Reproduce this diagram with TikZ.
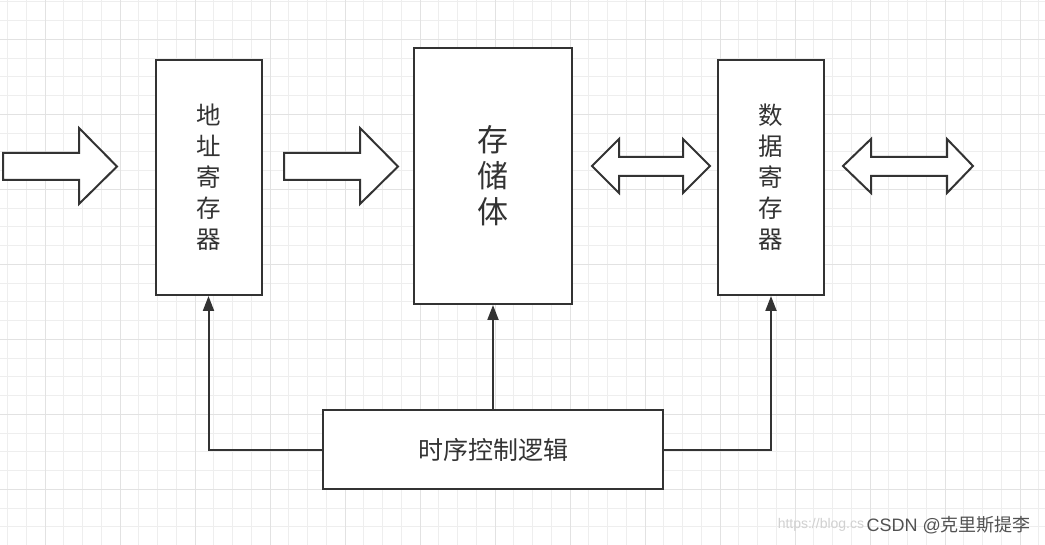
\documentclass[tikz,border=0pt]{standalone}
\usepackage{fontspec}
\newfontfamily\cjk{Noto Sans CJK SC}
\setmainfont{Liberation Sans}
\usetikzlibrary{arrows.meta}
\definecolor{ln}{HTML}{333333}
\definecolor{gridminor}{HTML}{EEEEEE}
\definecolor{gridmajor}{HTML}{E2E2E2}
\tikzset{
  box/.style={draw=ln, line width=2pt, fill=white, inner sep=0pt, align=center, text=ln},
  blockarrow/.style={draw=ln, line width=2pt, fill=white, line join=miter},
  conn/.style={draw=ln, line width=2pt, -{Triangle[length=15pt,width=11pt]}},
  vlabel/.style={font=\cjk\fontsize{24.5}{31}\selectfont},
}
\begin{document}
\begin{tikzpicture}[x=1pt,y=-1pt]
\useasboundingbox (0,0) rectangle (1045,545);
\fill[white] (0,0) rectangle (1045,545);
% grid
\foreach \i in {0,...,56} {
  \pgfmathsetmacro\xx{7.5+18.75*\i}
  \draw[gridminor, line width=1pt] (\xx,0) -- (\xx,545);
}
\foreach \i in {0,...,29} {
  \pgfmathsetmacro\yy{1.8+18.75*\i}
  \draw[gridminor, line width=1pt] (0,\yy) -- (1045,\yy);
}
\foreach \i in {0,...,13} {
  \pgfmathsetmacro\xx{45+75*\i}
  \draw[gridmajor, line width=1pt] (\xx,0) -- (\xx,545);
}
\foreach \i in {0,...,7} {
  \pgfmathsetmacro\yy{39.3+75*\i}
  \draw[gridmajor, line width=1pt] (0,\yy) -- (1045,\yy);
}
% boxes
\node[box, minimum width=106pt, minimum height=235pt, vlabel] (addr) at (208.5,177.5) {地\\址\\寄\\存\\器};
\node[box, minimum width=158pt, minimum height=256pt, font=\cjk\fontsize{31}{36}\selectfont] (store) at (493,176) {存\\储\\体};
\node[box, minimum width=106pt, minimum height=235pt, vlabel] (data) at (771,177.5) {数\\据\\寄\\存\\器};
\node[box, minimum width=340pt, minimum height=79pt, font=\cjk\fontsize{25}{28}\selectfont] (ctrl) at (493,449.5) {时序控制逻辑};
% block arrows
\draw[blockarrow] (3,153) -- (79,153) -- (79,128) -- (117,166.5) -- (79,204) -- (79,180) -- (3,180) -- cycle;
\draw[blockarrow] (284,153) -- (360,153) -- (360,128) -- (398,166.5) -- (360,204) -- (360,180) -- (284,180) -- cycle;
\draw[blockarrow] (592,166) -- (619,139) -- (619,157) -- (683,157) -- (683,139) -- (710,166) -- (683,193) -- (683,176) -- (619,176) -- (619,193) -- cycle;
\draw[blockarrow] (843,166) -- (871,139) -- (871,157) -- (947,157) -- (947,139) -- (973,166) -- (947,193) -- (947,176) -- (871,176) -- (871,193) -- cycle;
% connectors
\draw[conn] (ctrl.west) -| (addr.south);
\draw[conn] (ctrl.north) -- (store.south);
\draw[conn] (ctrl.east) -| (data.south);
% watermark
\node[anchor=east, text=ln!85, font=\fontsize{18}{20}\selectfont, inner sep=0pt] (csdn) at (1031,525) {CSDN @{\cjk 克里斯提李}};
\node[anchor=east, text=black!18, font=\fontsize{14}{16}\selectfont, inner sep=0pt] (wm) at ([xshift=-2pt]csdn.west) {https://blog.cs};
\end{tikzpicture}
\end{document}
